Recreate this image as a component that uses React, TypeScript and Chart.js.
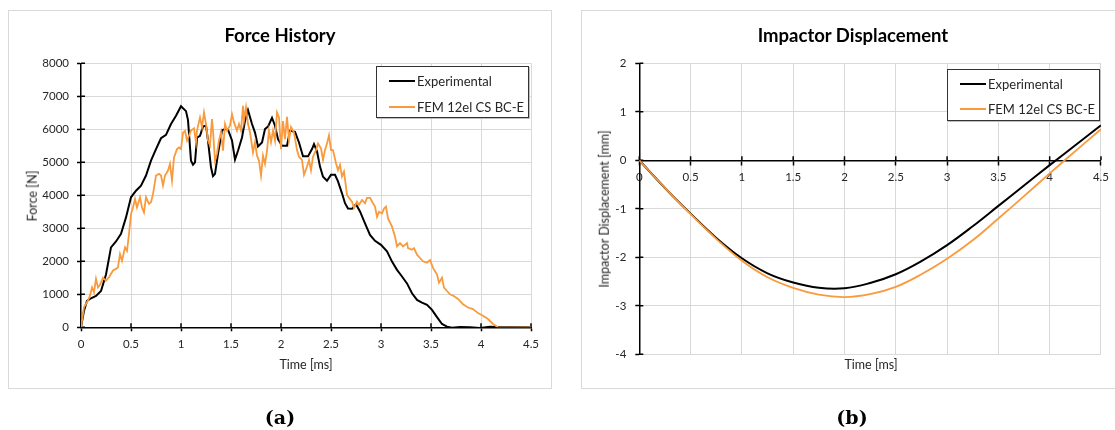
import React, { useEffect, useRef } from "react";
import { Chart, registerables } from "chart.js";

Chart.register(...registerables);

const FONT = "Lato, 'Open Sans', sans-serif";
const ORANGE = "#f99a3d";
const GRID = "#d9d9d9";
const TICK_COLOR = "#262626";

// ---------- Data ----------
const seriesLabels = ["Experimental", "FEM 12el CS BC-E"];
const timeTicks = [0, 0.5, 1, 1.5, 2, 2.5, 3, 3.5, 4, 4.5];
const forceTicks = [0, 1000, 2000, 3000, 4000, 5000, 6000, 7000, 8000];
const dispTicks = [-4, -3, -2, -1, 0, 1, 2];

const forceExpTime = [
  0, 0.03, 0.06, 0.1, 0.15, 0.2, 0.25, 0.3, 0.35, 0.4, 0.45, 0.5, 0.55, 0.6, 0.65, 0.7, 0.75, 0.8, 0.85, 0.9,
  0.95, 1.0, 1.05, 1.07, 1.1, 1.12, 1.14, 1.16, 1.19, 1.22, 1.25, 1.27, 1.3, 1.32, 1.34, 1.37, 1.41, 1.44, 1.47,
  1.51, 1.54, 1.57, 1.61, 1.64, 1.67, 1.71, 1.74, 1.77, 1.81, 1.84, 1.87, 1.91, 1.94, 1.97, 2.01, 2.06, 2.09,
  2.14, 2.18, 2.22, 2.27, 2.31, 2.33, 2.36, 2.39, 2.42, 2.46, 2.5, 2.54, 2.57, 2.61, 2.64, 2.67, 2.71, 2.75,
  2.79, 2.84, 2.89, 2.94, 3.0, 3.06, 3.11, 3.16, 3.21, 3.26, 3.31, 3.36, 3.41, 3.46, 3.51, 3.56, 3.61, 3.66,
  3.71, 3.79, 3.89, 3.99, 4.09, 4.19, 4.5,
];
const forceExpValues = [
  0, 500, 800, 880, 950, 1100, 1600, 2420, 2600, 2830, 3330, 3940, 4140, 4290, 4600, 5050, 5400, 5730, 5830, 6160,
  6410, 6700, 6550, 6280, 5050, 4930, 5000, 5750, 5800, 6080, 6110, 5660, 4850, 4580, 4650, 5260, 5970, 6010, 5990,
  5660, 5080, 5350, 5750, 6260, 6580, 6160, 5900, 5480, 5600, 6010, 6080, 6350, 6110, 5700, 5500, 5500, 5960,
  5920, 5600, 5180, 5180, 5400, 5550, 5330, 4870, 4560, 4440, 4620, 4620, 4420, 4060, 3760, 3600, 3590, 3730,
  3510, 3150, 2800, 2620, 2500, 2300, 1990, 1740, 1540, 1330, 1030, 830, 750, 680, 530, 310, 100, 20,
  -10, 10, 0, -20, 20, 0, 0,
];

const forceFemTime = [
  0, 0.03, 0.07, 0.09, 0.11, 0.13, 0.15, 0.17, 0.19, 0.22, 0.25, 0.28, 0.32, 0.35, 0.37, 0.39, 0.41, 0.44, 0.46,
  0.48, 0.5, 0.52, 0.54, 0.56, 0.59, 0.61, 0.63, 0.65, 0.68, 0.7, 0.72, 0.75, 0.78, 0.8, 0.82, 0.84, 0.87, 0.89,
  0.91, 0.93, 0.96, 0.98, 1.0, 1.02, 1.04, 1.06, 1.08, 1.1, 1.13, 1.15, 1.16, 1.19, 1.21, 1.23, 1.25, 1.27, 1.29,
  1.31, 1.32, 1.34, 1.36, 1.38, 1.4, 1.42, 1.44, 1.46, 1.49, 1.51, 1.53, 1.56, 1.58, 1.6, 1.62, 1.63, 1.65, 1.67,
  1.69, 1.72, 1.74, 1.76, 1.78, 1.8, 1.82, 1.84, 1.86, 1.88, 1.9, 1.92, 1.94, 1.96, 1.98, 2.0, 2.02, 2.04, 2.06,
  2.08, 2.1, 2.13, 2.16, 2.18, 2.21, 2.23, 2.26, 2.28, 2.3, 2.32, 2.35, 2.37, 2.4, 2.42, 2.44, 2.46, 2.48, 2.5,
  2.52, 2.55, 2.57, 2.59, 2.61, 2.63, 2.66, 2.68, 2.71, 2.73, 2.76, 2.78, 2.81, 2.84, 2.86, 2.89, 2.92, 2.94,
  2.96, 2.98, 3.01, 3.03, 3.05, 3.07, 3.11, 3.14, 3.16, 3.19, 3.22, 3.26, 3.27, 3.31, 3.33, 3.36, 3.39, 3.42,
  3.46, 3.49, 3.52, 3.56, 3.58, 3.61, 3.63, 3.66, 3.69, 3.72, 3.77, 3.82, 3.87, 3.92, 3.97, 4.02, 4.07, 4.12,
  4.17, 4.3, 4.5,
];
const forceFemValues = [
  0, 610, 810, 960, 1210, 1060, 1470, 1210, 1290, 1500, 1415, 1515, 1720, 1770, 1820, 2220, 2020, 2420, 2320,
  2830, 3430, 3630, 3890, 3630, 3940, 3630, 3480, 3940, 3740, 3790, 4040, 4600, 4650, 4600, 4300, 4600, 4750, 4950,
  4450, 5150, 5400, 5450, 5400, 5900, 5950, 5660, 5810, 5960, 6030, 5610, 5960, 6360, 6060, 6510, 6160, 5660, 5510,
  6310, 5960, 5050, 5260, 5660, 5910, 5350, 6160, 5960, 6110, 6460, 6210, 5960, 6160, 5960, 6710, 6260, 6660, 6160,
  5910, 5300, 5610, 5200, 5050, 4600, 5200, 4950, 5350, 5960, 5610, 5960, 5660, 6510, 6360, 5400, 6250, 5700, 6380,
  5670, 6070, 5900, 5370, 5170, 5070, 4620, 4870, 5070, 4760, 5170, 5370, 5570, 5420, 5070, 5370, 5570, 5820, 5370,
  5370, 4970, 4760, 4920, 4570, 4720, 4010, 3920, 3810, 3610, 3810, 3710, 3860, 3760, 3920, 3920, 3760, 3660,
  3350, 3500, 3450, 3600, 3660, 3300, 3050, 2750, 2450, 2550, 2450, 2550, 2400, 2350, 2400, 2200, 2100, 2000,
  1960, 2040, 1800, 1600, 1350, 1500, 1200, 1100, 1000, 960, 860, 700, 600, 550, 430, 350, 250, 100,
  0, -10, 0,
];

const dispTime = [0, 0.25, 0.5, 0.75, 1, 1.25, 1.5, 1.75, 2, 2.25, 2.5, 2.75, 3, 3.25, 3.5, 3.75, 4, 4.25, 4.5];
const dispExp = [0, -0.57, -1.1, -1.6, -2.02, -2.33, -2.52, -2.63, -2.64, -2.53, -2.35, -2.08, -1.75, -1.36, -0.94, -0.52, -0.1, 0.31, 0.72];
const dispFem = [0, -0.57, -1.11, -1.62, -2.07, -2.41, -2.63, -2.77, -2.82, -2.76, -2.61, -2.35, -2.03, -1.65, -1.2, -0.74, -0.27, 0.19, 0.64];

// ---------- Helpers ----------
const toPoints = (xs: number[], ys: number[]) => xs.map((x, i) => ({ x, y: ys[i] }));

const crossTicks = {
  id: "crossTicks",
  beforeDatasetsDraw(chart: any, _args: any, opts: any) {
    const { ctx, chartArea } = chart;
    const xs = chart.scales.x;
    const ys = chart.scales.y;
    const len = 4;
    const axisY = opts && opts.xAxisValue != null ? ys.getPixelForValue(opts.xAxisValue) : chartArea.bottom;
    ctx.save();
    ctx.strokeStyle = "#000";
    ctx.lineWidth = 1.5;
    ctx.beginPath();
    xs.ticks.forEach((t: any) => {
      const px = xs.getPixelForValue(t.value);
      ctx.moveTo(px, axisY - len);
      ctx.lineTo(px, axisY);
    });
    ys.ticks.forEach((t: any) => {
      const py = ys.getPixelForValue(t.value);
      ctx.moveTo(chartArea.left, py);
      ctx.lineTo(chartArea.left + len, py);
    });
    ctx.stroke();
    ctx.restore();
  },
};

const gridColor = (ctx: any) => (ctx.tick && ctx.tick.value === 0 ? "rgba(0,0,0,0)" : GRID);

function axisCommon(tickValues: number[], padding: number) {
  return {
    type: "linear" as const,
    afterBuildTicks: (s: any) => {
      s.ticks = tickValues.map((v) => ({ value: v }));
    },
    grid: { color: gridColor, lineWidth: 1, tickLength: 4, tickColor: "#000", tickWidth: 1.5 },
    border: { color: "#000", width: 1.5 },
    ticks: {
      font: { family: FONT, size: 11.5 },
      color: TICK_COLOR,
      padding,
      maxRotation: 0,
      autoSkip: false,
      callback: (v: any) => String(v),
    },
  };
}

function forceConfig(): any {
  return {
    type: "line",
    data: {
      datasets: [
        { label: seriesLabels[0], data: toPoints(forceExpTime, forceExpValues), borderColor: "#000", borderWidth: 2, pointRadius: 0, tension: 0, order: 1 },
        { label: seriesLabels[1], data: toPoints(forceFemTime, forceFemValues), borderColor: ORANGE, borderWidth: 1.8, pointRadius: 0, tension: 0, order: 0 },
      ],
    },
    options: {
      responsive: false,
      animation: false,
      devicePixelRatio: 1,
      layout: { padding: { left: 0, right: 21, top: 52.3, bottom: 0 }, autoPadding: false },
      plugins: { legend: { display: false }, title: { display: false }, tooltip: { enabled: false } },
      scales: {
        x: { ...axisCommon(timeTicks, 6), min: 0, max: 4.5, afterFit: (s: any) => { s.height = 60.7; } },
        y: { ...axisCommon(forceTicks, 8), min: 0, max: 8000, afterFit: (s: any) => { s.width = 73; } },
      },
    },
    plugins: [crossTicks],
  };
}

function dispConfig(): any {
  return {
    type: "line",
    data: {
      datasets: [
        { label: seriesLabels[0], data: toPoints(dispTime, dispExp), borderColor: "#000", borderWidth: 2, pointRadius: 0, tension: 0.4, order: 1 },
        { label: seriesLabels[1], data: toPoints(dispTime, dispFem), borderColor: ORANGE, borderWidth: 1.8, pointRadius: 0, tension: 0.4, order: 0 },
      ],
    },
    options: {
      responsive: false,
      animation: false,
      devicePixelRatio: 1,
      layout: { padding: { left: 0, right: 12.2, top: 52.3, bottom: 33.7 }, autoPadding: false },
      plugins: { legend: { display: false }, title: { display: false }, tooltip: { enabled: false }, crossTicks: { xAxisValue: 0 } },
      scales: {
        x: { ...axisCommon(timeTicks, 6), min: 0, max: 4.5, position: { y: 0 } },
        y: { ...axisCommon(dispTicks, 9), min: -4, max: 2, afterFit: (s: any) => { s.width = 57.3; } },
      },
    },
    plugins: [crossTicks],
  };
}

function ChartCanvas({ build, left, top, width, height }: { build: () => any; left: number; top: number; width: number; height: number }) {
  const ref = useRef<HTMLCanvasElement>(null);
  useEffect(() => {
    const chart = new Chart(ref.current as HTMLCanvasElement, build());
    return () => chart.destroy();
  }, []);
  return <canvas ref={ref} width={width} height={height} style={{ position: "absolute", left, top, width, height, display: "block" }} />;
}

function Text({ x, y, children, size, bold, rotate, family }: any) {
  return (
    <div
      style={{
        position: "absolute",
        left: x,
        top: y,
        transform: `translate(-50%, -50%)${rotate ? " rotate(-90deg)" : ""}`,
        whiteSpace: "nowrap",
        lineHeight: 1,
        fontSize: size,
        fontWeight: bold ? 700 : 400,
        fontFamily: family || FONT,
        color: bold ? "#000" : "#262626",
      }}
    >
      {children}
    </div>
  );
}

function Legend({ left, top, width, height, lineX, textX, rows }: any) {
  const colors = ["#000", ORANGE];
  return (
    <div style={{ position: "absolute", left, top, width, height, boxSizing: "border-box", border: "1px solid #333", background: "#fff", boxShadow: "1px 1px 0 #bfbfbf" }}>
      {seriesLabels.map((lab, i) => (
        <React.Fragment key={lab}>
          <div style={{ position: "absolute", left: lineX, top: rows[i] - 1, width: 26, height: 2, background: colors[i] }} />
          <div style={{ position: "absolute", left: textX, top: rows[i], transform: "translateY(-50%)", fontSize: 13, lineHeight: 1, whiteSpace: "nowrap", fontFamily: FONT, color: "#262626" }}>{lab}</div>
        </React.Fragment>
      ))}
    </div>
  );
}

export default function App() {
  return (
    <div style={{ position: "absolute", left: 0, top: 0, width: 1115, height: 430, overflow: "hidden", background: "#fff" }}>
      {/* chart (a) */}
      <div style={{ position: "absolute", left: 8, top: 10, width: 544, height: 379, border: "1px solid #d9d9d9", boxSizing: "border-box" }} />
      <ChartCanvas build={forceConfig} left={8} top={11} width={544} height={377} />
      <Text x={280} y={35} size={18.5} bold>Force History</Text>
      <Text x={33} y={196} size={12.5} rotate>Force [N]</Text>
      <Text x={306} y={365} size={12.5}>Time [ms]</Text>
      <Legend left={376} top={66} width={153} height={52} lineX={12} textX={40} rows={[14, 40]} />
      <Text x={280} y={417} size={19} bold family="'DejaVu Serif', serif">(a)</Text>

      {/* chart (b) */}
      <div style={{ position: "absolute", left: 581, top: 10, width: 600, height: 379, border: "1px solid #d9d9d9", boxSizing: "border-box" }} />
      <ChartCanvas build={dispConfig} left={582} top={11} width={533} height={377} />
      <Text x={853} y={35} size={18.5} bold>Impactor Displacement</Text>
      <Text x={605} y={208.5} size={12.5} rotate>Impactor Displacement [mm]</Text>
      <Text x={871} y={365} size={12.5}>Time [ms]</Text>
      <Legend left={947} top={69} width={153} height={52} lineX={12} textX={40} rows={[14, 39]} />
      <Text x={852} y={417} size={19} bold family="'DejaVu Serif', serif">(b)</Text>
    </div>
  );
}
